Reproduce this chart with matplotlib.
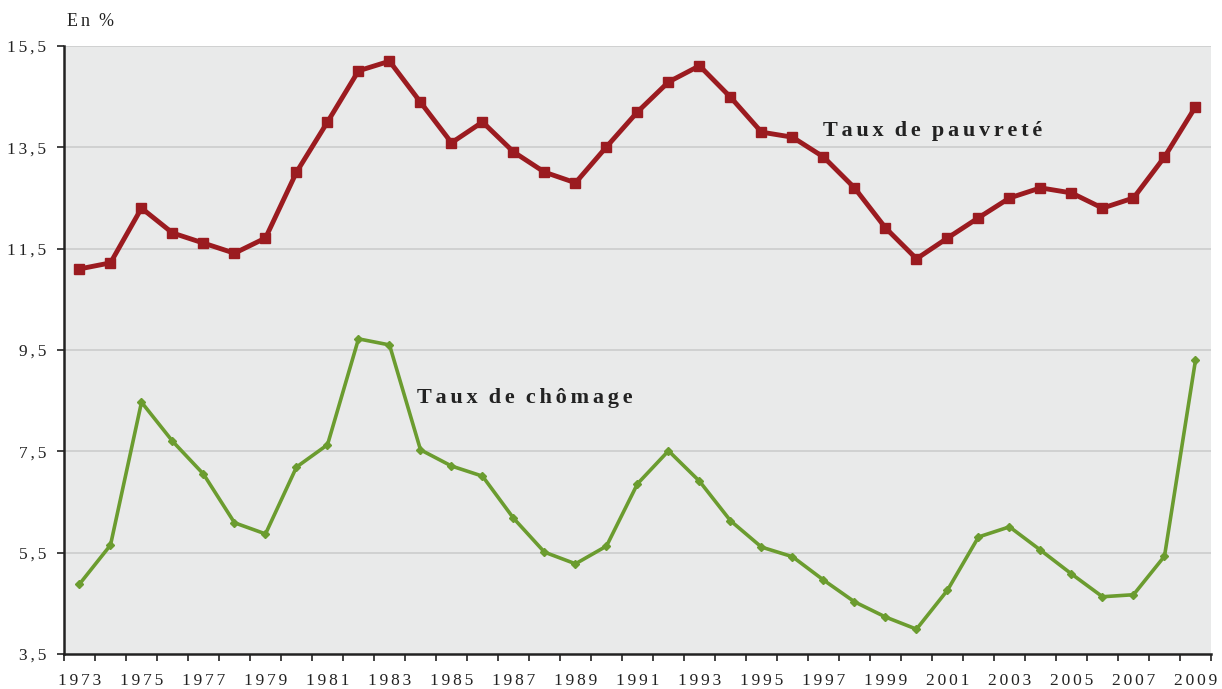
import matplotlib
matplotlib.use("Agg")
import matplotlib.pyplot as plt
from matplotlib.ticker import FixedLocator, FuncFormatter

years = list(range(1973, 2010))
pauvrete = [11.10, 11.22, 12.30, 11.81, 11.61, 11.41, 11.71, 13.01, 14.00, 15.01,
            15.20, 14.39, 13.59, 14.00, 13.41, 13.01, 12.80, 13.51, 14.20, 14.79,
            15.11, 14.49, 13.80, 13.70, 13.31, 12.70, 11.91, 11.30, 11.71, 12.11,
            12.50, 12.70, 12.60, 12.30, 12.50, 13.31, 14.30]
chomage = [4.88, 5.65, 8.47, 7.70, 7.05, 6.09, 5.87, 7.19, 7.63, 9.72,
           9.60, 7.53, 7.21, 7.01, 6.18, 5.51, 5.28, 5.63, 6.86, 7.51,
           6.91, 6.13, 5.61, 5.42, 4.96, 4.53, 4.23, 3.99, 4.76, 5.81,
           6.01, 5.55, 5.08, 4.63, 4.67, 5.43, 9.30]
yticks = [3.5, 5.5, 7.5, 9.5, 11.5, 13.5, 15.5]
label_years = list(range(1973, 2010, 2))

FONT = ['Liberation Serif', 'DejaVu Serif']
plt.rcParams['font.family'] = FONT
SP = '\u2006'
EN = '\u2002'


def spaced(s, gap=SP, word_gap=EN):
    words = s.split(' ')
    return word_gap.join(gap.join(w) for w in words)


fig = plt.figure(figsize=(12.22, 6.89), dpi=100)
ax = fig.add_axes([64/1222, 1-654/689, (1211-64)/1222, (654-46)/689])
ax.set_facecolor('#E9EAEA')

for y in yticks[1:]:
    ax.axhline(y, color='#CBCCCC', lw=1.2, zorder=1)

ax.plot(years, pauvrete, color='#9B1B20', lw=3.5, marker='s', ms=6.8, zorder=3)
ax.plot(years, chomage, color='#6B9C2F', lw=2.6, marker='D', ms=4, zorder=3)

ax.set_xlim(1972.5, 2009.5)
ax.set_ylim(3.5, 15.5)
ax.xaxis.set_major_locator(FixedLocator(label_years))
ax.xaxis.set_major_formatter(FuncFormatter(lambda v, p: spaced(str(int(round(v))))))
ax.xaxis.set_minor_locator(FixedLocator([y + 0.5 for y in range(1972, 2010)]))
ax.tick_params(axis='x', which='major', length=0, pad=14, labelsize=12.5, colors='#222222')
ax.tick_params(axis='x', which='minor', length=5, width=1.2, color='#222222')
ax.set_yticks(yticks)
ax.yaxis.set_major_formatter(FuncFormatter(lambda v, p: spaced(f"{v:.1f}".replace('.', ','))))
ax.tick_params(axis='y', length=5, width=1.2, labelsize=12.5, colors='#222222', pad=8)

for s in ['top', 'right']:
    ax.spines[s].set_visible(False)
for s in ['left', 'bottom']:
    ax.spines[s].set_color('#222222')
    ax.spines[s].set_linewidth(1.8)

ax.text(1997.0, 13.72, spaced('Taux de pauvreté'),
        fontsize=16, fontweight='bold', color='#222222')
ax.text(1983.9, 8.45, spaced('Taux de chômage'),
        fontsize=16, fontweight='bold', color='#222222')
fig.text(67/1222, 1-22/689, spaced('En %'), fontsize=13,
         color='#222222', va='center')

fig.savefig('out.png', dpi=100)
